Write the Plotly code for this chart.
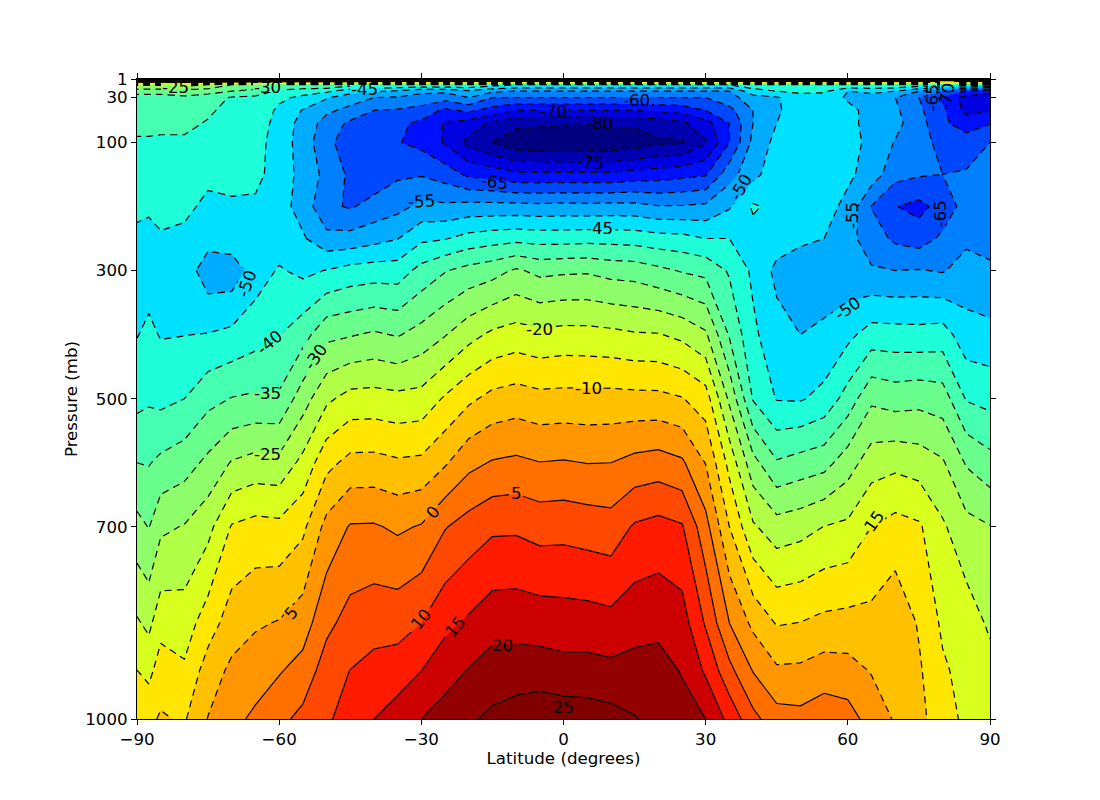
import math
import numpy as np
import plotly.graph_objects as go

levels = [1000, 925, 850, 700, 600, 500, 400, 300, 250, 200, 150, 100, 70, 50, 30, 20, 10, 1]
lats = [-90, -87.5] + list(range(-85, 95, 5))

t_m90 = [-12,-14.9,-19.4,-28.4,-35,-41.5,-45.2,-47.5,-46,-44,-43.2,-40.7,-38.5,-37.5,-37,-33,-24,29.9]
t_m87 = [-11,-16.5,-21.2,-30.2,-35.3,-40.7,-44,-47,-46,-44.5,-43.2,-40.7,-38.5,-37.5,-37,-33,-24,29.9]
t_m85 = [-9.5,-12.3,-17,-26,-33.9,-41.3,-45.3,-47.5,-45.5,-43.5,-43,-41,-38.5,-37.5,-37,-33,-24,29.9]
t_m80 = [-10.5,-14.2,-17.5,-24.7,-32.2,-40,-45.1,-47,-46,-44,-43,-41,-38.5,-37.5,-36,-32,-23,29.9]
t_m75 = [-4.8,-7.6,-12.4,-21.6,-28.8,-36.5,-44.8,-53,-48,-46,-44,-42,-40.5,-39,-37.5,-33,-25,29.9]
t_m70 = [-1.4,-3.9,-7.5,-14.6,-24.6,-34.8,-43.8,-53,-47,-45.7,-43.5,-42,-42,-42,-40.5,-35,-30,29.9]
t_m65 = [1,-2.4,-5.6,-13.3,-23.2,-34.2,-42,-47.5,-47.5,-46,-43.5,-43,-42,-41.5,-41,-37,-30,29.9]
t_m60 = [3.7,-0.4,-4.7,-13.7,-23.5,-34.2,-40.2,-44.5,-47.5,-48,-47.5,-47.5,-47,-46,-44,-41,-35,29.9]
t_m55 = [6.4,1.9,-2.4,-11.1,-18.6,-27.3,-37,-46.2,-49.4,-52,-51.5,-52,-51.7,-50.3,-46,-43,-35,29.9]
t_m50 = [9.3,7.5,3.7,-3.4,-11.5,-21,-31.3,-44.8,-53.5,-59,-56.5,-59,-57,-54,-49.5,-44,-35,29.9]
t_m45 = [12,10.1,6.9,0.4,-8.5,-18.2,-30.4,-43.2,-53.2,-60.5,-61,-62,-61,-56.4,-52.7,-48,-38,29.9]
t_m40 = [15,11.6,8.1,0.5,-8.4,-18,-29.3,-42.6,-51.7,-58.3,-63,-64,-62,-60,-55,-49,-40,29.9]
t_m35 = [17.5,12.4,8.1,-0.8,-9.3,-18.6,-30.4,-42.6,-50.2,-56.5,-60.8,-64.7,-64,-60.5,-55.5,-51,-40,29.9]
t_m30 = [20,15,10,0.4,-8.9,-18.2,-28.1,-38.3,-46,-53.8,-60.4,-66.5,-66,-62,-56.5,-54,-40,29.9]
t_m25 = [22,18.1,13.7,4.7,-5.6,-14.4,-25.3,-35.3,-45.3,-54,-62.3,-70.5,-70.5,-66,-58,-54,-40,29.9]
t_m20 = [24.3,20.3,15.8,7.1,-1.4,-11,-21.7,-33.3,-43.2,-53.3,-66,-76.5,-72,-64,-55,-51,-40,29.9]
t_m15 = [26,22.4,18,9.1,0.4,-8.5,-19,-31.9,-42.2,-53.3,-67,-80,-76,-67,-60,-54,-43,29.9]
t_m10 = [27.5,22.4,18.2,9.2,1,-7.6,-17.8,-29.3,-41.5,-53.3,-69,-83.5,-78.5,-70,-60,-55,-45,29.9]
t_m05 = [28.5,22.4,17.7,8.1,0.1,-8.5,-18.8,-31.3,-42,-53.6,-69,-84,-79,-70,-60,-55,-45,29.9]
t_000 = [28,21.7,17.4,8.3,0.4,-8.3,-18.2,-30.8,-42,-53.3,-69,-84.5,-79.5,-70,-60,-55,-45,29.9]
t_p05 = [27.5,21.8,17.2,7.7,-0.1,-8.4,-18.3,-30.6,-41.7,-53.5,-69,-84,-79.5,-70,-60,-55,-45,29.9]
t_p10 = [26.8,21.3,16.6,7.1,0,-8.3,-18.7,-31.8,-41.8,-53.3,-69,-84,-79,-70,-60,-55,-45,29.9]
t_p15 = [25.3,21.7,18.2,10.6,1.5,-8.5,-19.5,-32.2,-42.1,-53.3,-68,-83,-79,-70,-60,-55,-45,29.9]
t_p20 = [23.6,22,18.6,11.7,2.2,-8.6,-19.7,-33.8,-43,-54.7,-67.5,-80.7,-78,-69,-60,-55,-45,29.9]
t_p25 = [21.8,19.7,17.3,10.5,0.8,-9.7,-21.2,-35.4,-43.4,-54.6,-66.5,-80.5,-76,-68,-60,-55,-45,29.9]
t_p30 = [20,14.3,9.4,1.8,-5.2,-12.6,-24.2,-36.4,-45,-54,-65.5,-75.5,-72,-65,-60,-55,-45,29.9]
t_p35 = [13.5,6.5,0,-10,-16.6,-26,-35.5,-40.6,-45,-50.5,-57,-65.1,-65,-61.5,-57,-55,-45,29.9]
t_p40 = [6.5,-0.2,-6.2,-19.3,-28.3,-40.4,-44,-46,-47,-44.3,-51.5,-53.7,-55,-55,-52,-47,-42,29.9]
t_p45 = [2,-4.2,-10.4,-22.8,-34.5,-45.3,-48.2,-51.3,-47.5,-46.5,-47,-48.5,-50,-50.8,-50.5,-45,-40,29.9]
t_p50 = [1.5,-4,-9.9,-21.8,-33,-45.5,-50,-51.5,-49.5,-48.5,-47.5,-46.5,-46.5,-47,-47,-44,-40,29.9]
t_p55 = [3,-2.6,-8.7,-19.9,-31.8,-43.4,-49.3,-52,-50,-48,-47,-47,-47,-47,-48,-44,-40,29.9]
t_p60 = [2.1,-3.1,-8.3,-19,-27.3,-37.9,-46.3,-53.5,-53.4,-51.4,-49,-48,-48.5,-49,-50.5,-50,-40,29.9]
t_p65 = [-2,-5.3,-8.5,-15,-22.3,-31,-42.8,-54.5,-57.5,-60.2,-52.2,-51.4,-51.8,-51.2,-51.7,-49,-40,29.9]
t_p70 = [-5.5,-7.5,-6.2,-13.2,-21.3,-32.2,-43,-55,-61,-64.8,-58.4,-55.3,-53.5,-54,-55,-50,-40,29.9]
t_p75 = [-8.5,-9.3,-10.5,-14.3,-22.3,-31.6,-43.2,-54.7,-62.4,-66.5,-59.5,-57.5,-58,-59,-60,-55,-42,29.9]
t_p80 = [-13,-14.2,-15.9,-19.3,-24.4,-32.5,-42.7,-55.4,-59,-63,-60,-62,-64,-64,-66,-60,-42,29.9]
t_p85 = [-16,-16.8,-17.5,-23.3,-30.5,-40.4,-48,-53,-56,-58,-59.5,-62.6,-67.5,-71.5,-72,-65,-42,29.9]
t_p90 = [-17,-18.4,-20.8,-24.8,-33.3,-41.6,-48.4,-54.5,-56,-57.5,-58.6,-60,-65.3,-70.3,-74,-68,-44,29.9]

columns = [t_m90, t_m87, t_m85, t_m80, t_m75, t_m70, t_m65, t_m60, t_m55, t_m50, t_m45, t_m40, t_m35,
           t_m30, t_m25, t_m20, t_m15, t_m10, t_m05, t_000, t_p05, t_p10, t_p15, t_p20, t_p25, t_p30,
           t_p35, t_p40, t_p45, t_p50, t_p55, t_p60, t_p65, t_p70, t_p75, t_p80, t_p85, t_p90]
temps = np.array(columns).T

# one colour per band: below -85, -85..-80, ... , 20..25, above 25
band_colors = ["#000080", "#000080", "#0000b0", "#0000e0", "#0010ff", "#0048ff", "#0080ff", "#00acff",
               "#00e0ff", "#1effd9", "#47ffb0", "#6aff8d", "#8eff6a", "#b2ff47", "#d9ff1e", "#ffe600",
               "#ffc000", "#ff9500", "#ff7000", "#ff4800", "#ff1a00", "#cc0000", "#930000", "#800000"]
scale = [[i / (len(band_colors) - 1), c] for i, c in enumerate(band_colors)]

label_text = ["-25", "-30", "-45", "-70", "-60", "-80", "-75", "-65", "-55", "-45", "-50", "-50", "-40", "-30",
              "-35", "-25", "-20", "-10", "5", "0", "5", "10", "15", "20", "25", "-15", "-50", "-55", "-65",
              "-65", "-70"]
label_lat = [-81.8, -62.4, -41.9, -2.2, 15.5, 7.7, 5.6, -14.5, -29.9, 7.7, 37.5, -66.8, -62, -52.4,
             -62.4, -62.4, -5, 5.2, -10, -27.5, -57.3, -30, -22.7, -12.8, 0, 65.3, 60, 61, 79.5, 77.8, 81]
label_p = [15, 15, 18, 52, 34, 71, 131, 163, 192, 235, 171, 320, 412, 435, 492, 587, 392, 484, 648, 678, 834,
           845, 856, 885, 982, 695, 359, 214, 212, 31, 29]
label_angle = [0, 0, 0, 0, 0, 0, 5, 8, -3, 0, -60, -70, -40, -55, 0, 0, 0, 0, 0, -50, -50, -50, -50, 0, 0, -55,
               -35, -90, -90, -90, -80]

PLOT_W, PLOT_H = 853, 640


def fill_trace(xa, ya):
    return go.Contour(x=lats, y=levels, z=temps, autocontour=False, showscale=False, xaxis=xa, yaxis=ya,
                      contours=dict(start=-85, end=25, size=5, coloring="fill", showlines=False),
                      colorscale=scale, line=dict(width=0, smoothing=0), hoverinfo="skip")


fig = go.Figure()
fig.add_trace(fill_trace("x", "y"))
fig.add_trace(go.Contour(x=lats, y=levels, z=temps, autocontour=False, showscale=False,
                         contours=dict(start=-85, end=-5, size=5, coloring="none"),
                         line=dict(color="black", width=1.2, dash="7px,5px", smoothing=0), hoverinfo="skip"))
fig.add_trace(go.Contour(x=lats, y=levels, z=temps, autocontour=False, showscale=False,
                         contours=dict(start=0, end=25, size=5, coloring="none"),
                         line=dict(color="black", width=1.2, dash="solid", smoothing=0), hoverinfo="skip"))

# each inline label breaks the contour lines: a small inset of the same fill sits over them
axes = {}
for i, (t, la, p, ang) in enumerate(zip(label_text, label_lat, label_p, label_angle)):
    length = 10.6 * len(t.replace("-", "")) + (5.6 if "-" in t else 0) + 3
    c, s = abs(math.cos(math.radians(ang))), abs(math.sin(math.radians(ang)))
    box_w = c * length + s * 9
    box_h = s * length + c * 9
    px = (la + 90) / 180 * PLOT_W
    py = (1 - (p - 1) / 999) * PLOT_H
    # whole pixels, so that the inset's edge is not smoothed against the plot under it
    x0 = max(round(px - box_w / 2), 0) / PLOT_W
    x1 = min(round(px + box_w / 2), PLOT_W) / PLOT_W
    y0 = max(round(py - box_h / 2), 0) / PLOT_H
    y1 = min(round(py + box_h / 2), PLOT_H) / PLOT_H
    n = i + 2
    axes[f"xaxis{n}"] = dict(domain=[x0, x1], range=[x0 * 180 - 90, x1 * 180 - 90], visible=False,
                             anchor=f"y{n}", fixedrange=True)
    axes[f"yaxis{n}"] = dict(domain=[y0, y1], range=[1 + (1 - y0) * 999, 1 + (1 - y1) * 999], visible=False,
                             anchor=f"x{n}", fixedrange=True)
    fig.add_trace(fill_trace(f"x{n}", f"y{n}"))
    fig.add_annotation(x=la, y=p, xref="x", yref="y", text=t, textangle=ang, showarrow=False, borderpad=0,
                       font=dict(family="DejaVu Sans", size=16.67, color="black"))

axis_font = dict(family="DejaVu Sans", size=16.67, color="black")
fig.update_layout(
    width=1100, height=800, autosize=False,
    margin=dict(l=137, r=110, t=79, b=81, pad=0),
    paper_bgcolor="white", plot_bgcolor="white", showlegend=False,
    font=axis_font,
    xaxis=dict(range=[-90, 90], tickvals=[-90, -60, -30, 0, 30, 60, 90], ticks="outside", ticklen=5,
               tickcolor="black", mirror="allticks", showline=True, linecolor="black", linewidth=1,
               showgrid=False, zeroline=False, title=dict(text="Latitude (degrees)", font=axis_font, standoff=2)),
    yaxis=dict(range=[1000, 1], tickvals=[1, 30, 100, 300, 500, 700, 1000], ticks="outside", ticklen=5,
               tickcolor="black", mirror="allticks", showline=True, linecolor="black", linewidth=1,
               showgrid=False, zeroline=False, title=dict(text="Pressure (mb)", font=axis_font, standoff=3)),
    **axes,
)
fig.write_html("out.html", config={"displayModeBar": False},
               post_script="document.body.style.margin='0';document.body.style.overflow='hidden';")
